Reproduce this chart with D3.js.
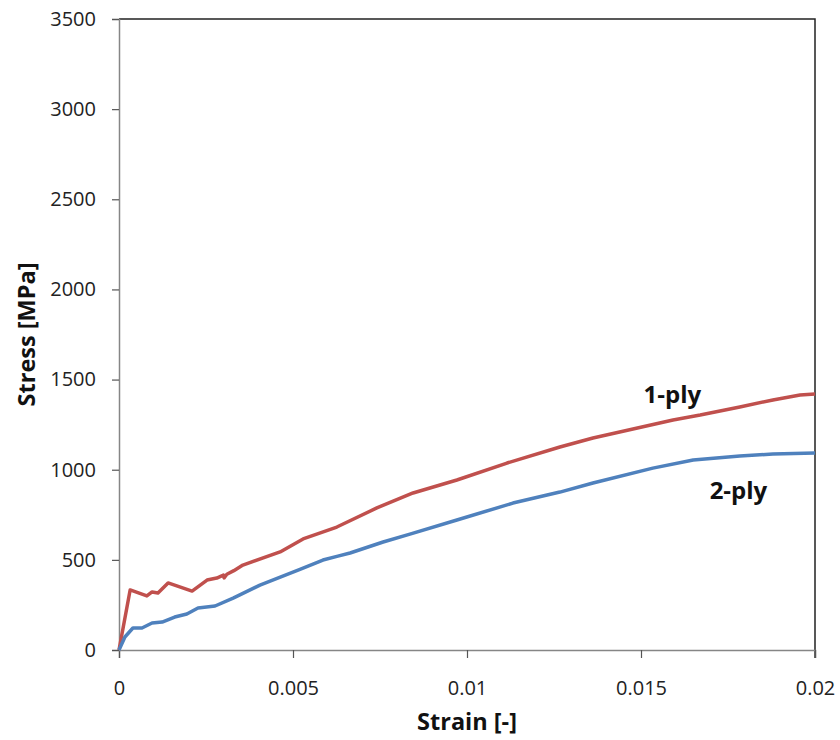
<!DOCTYPE html>
<html>
<head>
    <script src="https://d3js.org/d3.v7.min.js"></script>
    <style>
        body { margin: 0; background: #fff; }
        svg { display: block; font-family: "Open Sans", "Noto Sans", sans-serif; }
        .tick text { font-family: "Open Sans", "Noto Sans", sans-serif; font-size: 20px; fill: #222; }
        .title { font-size: 23.5px; font-weight: bold; fill: #111; }
        .curve-label { font-size: 24px; font-weight: bold; fill: #111; }
    </style>
</head>
<body>
    <svg id="chart" width="840" height="740"></svg>
    <script>
        // 1-ply curve (strain, stress in MPa)
        const ply1Strain = [0, 0.00032, 0.0008, 0.00095, 0.00112, 0.00141, 0.0021, 0.00253, 0.00281,
            0.0030, 0.00302, 0.0031, 0.0033, 0.00356, 0.00463, 0.00529, 0.00626, 0.00741, 0.00845,
            0.00971, 0.01115, 0.01267, 0.01362, 0.01592, 0.0167, 0.01784, 0.01879, 0.01957, 0.02];
        const ply1Stress = [0, 333, 300, 322, 316, 372, 327, 388, 399,
            415, 400, 420, 440, 471, 544, 616, 682, 788, 871,
            943, 1037, 1126, 1176, 1276, 1303, 1348, 1387, 1414, 1420];

        // 2-ply curve
        const ply2Strain = [0, 0.00017, 0.0004, 0.00066, 0.00095, 0.00124, 0.0016, 0.00195, 0.00227,
            0.00276, 0.00328, 0.00405, 0.0052, 0.00586, 0.00629, 0.00664, 0.00759, 0.00836, 0.00971,
            0.01132, 0.01267, 0.01362, 0.01534, 0.0165, 0.01784, 0.01879, 0.02];
        const ply2Stress = [0, 72, 122, 122, 150, 155, 183, 200, 233,
            244, 288, 360, 447, 499, 521, 538, 599, 643, 721,
            815, 876, 926, 1009, 1054, 1076, 1087, 1093];

        const xTicks = [0, 0.005, 0.01, 0.015, 0.02];
        const xTickLabels = ["0", "0.005", "0.01", "0.015", "0.02"];
        const yTicks = [0, 500, 1000, 1500, 2000, 2500, 3000, 3500];

        const series = [
            { name: "1-ply", strain: ply1Strain, stress: ply1Stress, color: "#c0504d" },
            { name: "2-ply", strain: ply2Strain, stress: ply2Stress, color: "#4f81bd" }
        ];

        const svg = d3.select("#chart");
        const margin = { left: 119, right: 815, top: 19, bottom: 650 };

        const x = d3.scaleLinear().domain([0, 0.02]).range([margin.left, margin.right]);
        const y = d3.scaleLinear().domain([0, 3500]).range([margin.bottom, margin.top]);

        // plot area border (top / right)
        svg.append("path")
            .attr("d", `M${margin.left},${margin.top}H${margin.right}V${margin.bottom + 8}`)
            .attr("fill", "none")
            .attr("stroke", "#222")
            .attr("stroke-width", 1.5);

        // x axis
        const xAxis = svg.append("g")
            .attr("transform", `translate(0,${margin.bottom})`)
            .call(d3.axisBottom(x).tickValues(xTicks)
                .tickFormat((d, i) => xTickLabels[i]).tickSizeOuter(0).tickSize(8).tickPadding(23));
        xAxis.select(".domain").attr("stroke", "#868686").attr("stroke-width", 1.5);
        xAxis.selectAll(".tick line").attr("stroke", "#555").attr("stroke-width", 1.2);

        // y axis
        const yAxis = svg.append("g")
            .attr("transform", `translate(${margin.left},0)`)
            .call(d3.axisLeft(y).tickValues(yTicks).tickFormat(d3.format("d"))
                .tickSizeOuter(0).tickSize(7).tickPadding(16));
        yAxis.select(".domain").attr("stroke", "#868686").attr("stroke-width", 1.5);
        yAxis.selectAll(".tick line").attr("stroke", "#555").attr("stroke-width", 1.2);

        // curves
        const line = d3.line()
            .x(d => x(d[0]))
            .y(d => y(d[1]));

        series.forEach(s => {
            svg.append("path")
                .datum(s.strain.map((v, i) => [v, s.stress[i]]))
                .attr("fill", "none")
                .attr("stroke", s.color)
                .attr("stroke-width", 3.5)
                .attr("stroke-linejoin", "round")
                .attr("d", line);
        });

        // curve labels
        svg.append("text")
            .attr("class", "curve-label")
            .attr("x", x(0.0159)).attr("y", y(1370))
            .attr("text-anchor", "middle")
            .text("1-ply");
        svg.append("text")
            .attr("class", "curve-label")
            .attr("x", x(0.0178)).attr("y", y(840))
            .attr("text-anchor", "middle")
            .text("2-ply");

        // axis titles
        svg.append("text")
            .attr("class", "title")
            .attr("x", (margin.left + margin.right) / 2).attr("y", 730)
            .attr("text-anchor", "middle")
            .text("Strain [-]");
        svg.append("text")
            .attr("class", "title")
            .attr("transform", `translate(35,${(margin.top + margin.bottom) / 2}) rotate(-90)`)
            .attr("text-anchor", "middle")
            .text("Stress [MPa]");
    </script>
</body>
</html>
